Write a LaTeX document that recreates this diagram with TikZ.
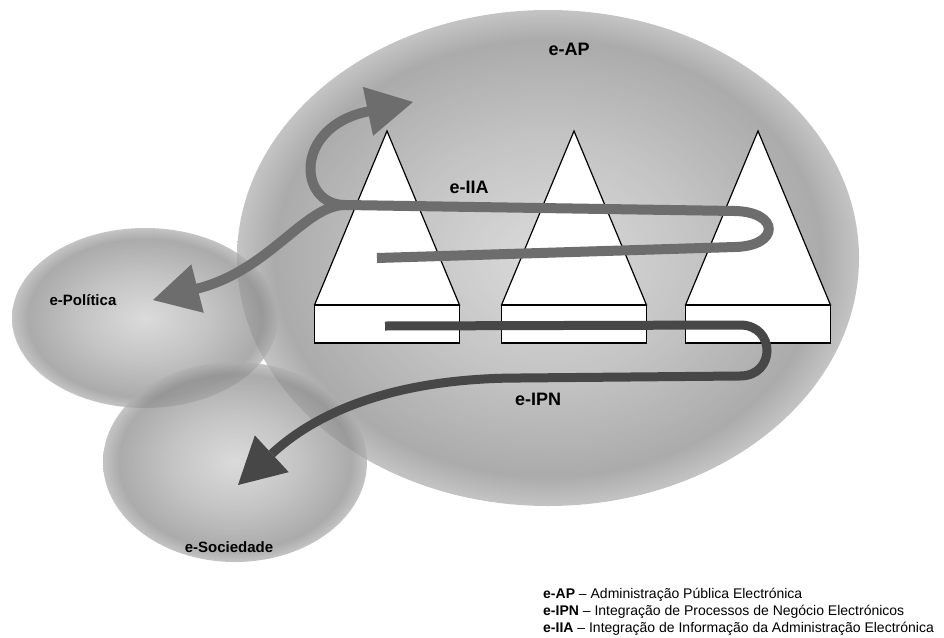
\documentclass[tikz,border=0pt]{standalone}
\usepackage{fontspec}
\setmainfont{Liberation Sans}
\usetikzlibrary{shapes.geometric,arrows.meta}
\usepackage{xcolor}
\definecolor{iiagray}{HTML}{6D6D6D}
\definecolor{ipngray}{HTML}{474747}
\pgfdeclareradialshading{bubble}{\pgfpoint{0bp}{0bp}}{color(0bp)=(black!19); color(12bp)=(black!31); color(22bp)=(black!44); color(25bp)=(black!31); color(50bp)=(black!31)}

\begin{document}
\begin{tikzpicture}[x=1pt, y=-1pt,
  blob/.style={ellipse, shading=bubble, fill opacity=0.75, inner sep=0pt},
  lbl/.style={font=\bfseries\fontsize{18}{21}\selectfont, inner sep=0pt},
  slbl/.style={font=\bfseries\fontsize{15}{18}\selectfont, inner sep=0pt},
  key/.style={anchor=base west, font=\fontsize{14}{17}\selectfont, inner sep=0pt},
  flow/.style={-{Triangle[length=46pt, width=50pt, line width=0pt]}}]
\tikzstyle{tower}=[draw=black, fill=white, line width=1.2pt, line join=miter]
\tikzstyle{iialine}=[draw=iiagray, line width=10pt, iiagray]
\tikzstyle{ipnline}=[draw=ipngray, line width=9pt, ipngray]
\useasboundingbox (0,0) rectangle (944,637);
% areas
\foreach \n/\x/\y/\w/\h in {AP/548/258/622/496, Pol/145/318/266/180, Soc/235/462/264/200}{\node[blob, minimum width=\w pt, minimum height=\h pt] (\n) at (\x,\y) {};}
% the three columns
\foreach \cx in {387,574,758}{
  \draw[tower] (\cx,131) -- (\cx+72.5,305) -- (\cx-72.5,305) -- cycle;
  \draw[tower] (\cx-72.5,305) rectangle (\cx+72.5,343);
}
\node[lbl] (tAP) at (569,49) {e-AP};
\node[lbl] (tIIA) at (469,187) {e-IIA};
\node[lbl] (tIPN) at (538,399) {e-IPN};
\node[slbl] (tPol) at (83,300) {e-Política};
\node[slbl] (tSoc) at (229,547) {e-Sociedade};
% flows
\coordinate (iiaStart) at (377,258);
\coordinate (iiaFork) at (345,205);
\coordinate (iiaTipAP) at (413,102);
\coordinate (iiaTipPol) at (153,300);
\coordinate (ipnStart) at (385,326);
\coordinate (ipnTip) at (238,485);
\draw[iialine] (iiaStart) -- (735,247) .. controls (780,246) and (780,212) .. (735,211) -- (iiaFork);
\draw[iialine, flow, line cap=round] (iiaFork) .. controls (298,205) and (293,127) .. (iiaTipAP);
\draw[iialine, flow, line cap=round] (iiaFork) .. controls (305,205) and (270,270) .. (iiaTipPol);
\draw[ipnline, flow] (ipnStart) -- (740,325) .. controls (776,325) and (776,376) .. (740,376) -- (520,378) .. controls (420,378) and (330,400) .. (ipnTip);
% legend
\node[key] (k1) at (543,598) {\textbf{e-AP} – Administração Pública Electrónica};
\node[key] (k2) at (543,615) {\textbf{e-IPN} – Integração de Processos de Negócio Electrónicos};
\node[key] (k3) at (543,632) {\textbf{e-IIA} – Integração de Informação da Administração Electrónica};
\end{tikzpicture}
\end{document}
